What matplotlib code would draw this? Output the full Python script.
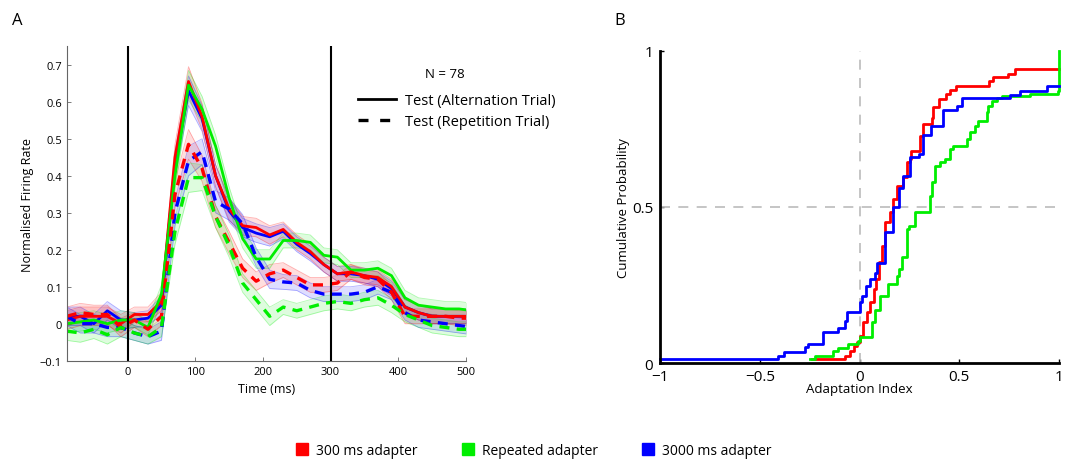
import numpy as np
import matplotlib.pyplot as plt
from matplotlib.lines import Line2D

plt.rcParams['font.family'] = ['Open Sans', 'DejaVu Sans']

RED = '#ff0000'
GREEN = '#00ee00'
BLUE = '#0000ff'

# ---- panel A: population PSTH (normalised firing rate) ----
times = [-90, -70, -50, -30, -10, 10, 30, 50, 70, 90, 110, 130, 150, 170, 190, 210,
         230, 250, 270, 290, 310, 330, 350, 370, 390, 410, 430, 450, 470, 490, 510]

red_alt = [0.01, 0.02, 0.02, 0.02, 0.0, 0.025, 0.025, 0.06, 0.45, 0.655, 0.56, 0.40, 0.31,
           0.265, 0.26, 0.24, 0.255, 0.22, 0.195, 0.16, 0.135, 0.14, 0.13, 0.125, 0.10,
           0.045, 0.03, 0.02, 0.02, 0.02, 0.02]
green_alt = [0.0, 0.005, 0.01, 0.0, 0.01, 0.01, -0.01, 0.08, 0.40, 0.645, 0.58, 0.48, 0.34,
             0.23, 0.175, 0.175, 0.225, 0.225, 0.22, 0.185, 0.18, 0.145, 0.145, 0.15, 0.13,
             0.07, 0.05, 0.045, 0.04, 0.04, 0.035]
blue_alt = [0.02, 0.02, 0.0, 0.035, 0.01, 0.01, 0.015, 0.05, 0.43, 0.63, 0.555, 0.40, 0.305,
            0.26, 0.245, 0.235, 0.25, 0.215, 0.19, 0.16, 0.135, 0.135, 0.13, 0.12, 0.095,
            0.045, 0.03, 0.02, 0.02, 0.02, 0.02]
red_rep = [0.02, 0.03, 0.025, 0.025, -0.01, 0.01, -0.015, 0.02, 0.35, 0.485, 0.42, 0.29, 0.22,
           0.15, 0.115, 0.135, 0.145, 0.125, 0.105, 0.105, 0.11, 0.14, 0.125, 0.12, 0.085,
           0.02, 0.02, 0.02, 0.02, 0.015, 0.015]
blue_rep = [0.02, 0.0, 0.0, -0.01, -0.01, -0.025, -0.035, -0.02, 0.30, 0.44, 0.465, 0.33, 0.31,
            0.27, 0.18, 0.12, 0.113, 0.11, 0.09, 0.08, 0.08, 0.08, 0.085, 0.10, 0.085,
            0.03, 0.01, 0.005, 0.0, -0.005, -0.01]
green_rep = [-0.02, -0.025, -0.015, -0.03, -0.01, -0.025, -0.035, -0.01, 0.25, 0.395, 0.395,
             0.29, 0.21, 0.11, 0.065, 0.02, 0.045, 0.035, 0.045, 0.055, 0.06, 0.055, 0.065,
             0.07, 0.05, 0.025, 0.01, -0.005, -0.01, -0.015, -0.015]
# shaded error (half-width), shared across conditions
sem = [0.025, 0.025, 0.025, 0.025, 0.025, 0.02, 0.02, 0.025, 0.035, 0.04, 0.035, 0.03, 0.03,
       0.025, 0.025, 0.025, 0.02, 0.02, 0.02, 0.02, 0.02, 0.02, 0.02, 0.02, 0.02,
       0.02, 0.02, 0.02, 0.02, 0.02, 0.02]

# ---- panel B: cumulative distributions of adaptation index (step levels) ----
red_x = [-0.24, -0.073, -0.048, -0.03, -0.014, 0.003, 0.019, 0.036, 0.053, 0.073, 0.085,
         0.099, 0.111, 0.128, 0.153, 0.17, 0.19, 0.22, 0.237, 0.253, 0.257, 0.303, 0.32,
         0.362, 0.37, 0.398, 0.434, 0.454, 0.484, 0.65, 0.67, 0.746, 0.779, 1.0]
red_y = [0.013, 0.024, 0.04, 0.055, 0.067, 0.088, 0.131, 0.163, 0.195, 0.238, 0.27,
         0.324, 0.376, 0.451, 0.484, 0.526, 0.568, 0.595, 0.643, 0.653, 0.68, 0.728, 0.765,
         0.785, 0.819, 0.845, 0.861, 0.875, 0.887, 0.902, 0.915, 0.925, 0.94, 0.94]
blue_x = [-1.0, -0.407, -0.38, -0.273, -0.26, -0.181, -0.106, -0.073, -0.065, 0.0, 0.01,
          0.033, 0.05, 0.078, 0.088, 0.13, 0.17, 0.2, 0.22, 0.253, 0.3, 0.32, 0.36, 0.42,
          0.487, 0.512, 0.754, 0.805, 0.938, 1.0]
blue_y = [0.013, 0.025, 0.035, 0.051, 0.062, 0.099, 0.113, 0.136, 0.163, 0.195, 0.216,
          0.248, 0.27, 0.29, 0.32, 0.42, 0.5, 0.56, 0.6, 0.66, 0.67, 0.73, 0.76, 0.81,
          0.824, 0.848, 0.859, 0.872, 0.886, 0.886]
green_x = [-0.248, -0.223, -0.133, -0.108, -0.058, -0.006, 0.003, 0.061, 0.08, 0.103, 0.145,
           0.186, 0.2, 0.211, 0.236, 0.25, 0.278, 0.353, 0.362, 0.378, 0.404, 0.429, 0.454,
           0.47, 0.537, 0.554, 0.579, 0.596, 0.638, 0.645, 0.662, 0.687, 0.712, 0.855, 0.997,
           1.0]
green_y = [0.013, 0.024, 0.04, 0.05, 0.062, 0.072, 0.083, 0.131, 0.17, 0.216, 0.254, 0.28,
           0.3, 0.339, 0.43, 0.44, 0.485, 0.536, 0.579, 0.63, 0.643, 0.654, 0.686, 0.696,
           0.717, 0.739, 0.76, 0.776, 0.803, 0.824, 0.84, 0.848, 0.855, 0.861, 0.872, 1.0]

n_cells = 78
legend_names = ['300 ms adapter', 'Repeated adapter', '3000 ms adapter']

fig = plt.figure(figsize=(10.73, 4.60), dpi=100)

# ---------------- panel A ----------------
ax = fig.add_axes([0.0622, 0.2137, 0.3720, 0.6834])
t = np.array(times)
s = np.array(sem)
series = [(blue_alt, BLUE, '-'), (red_alt, RED, '-'), (green_alt, GREEN, '-'),
          (blue_rep, BLUE, '--'), (red_rep, RED, '--'), (green_rep, GREEN, '--')]
for vals, col, ls in series:
    v = np.array(vals)
    ax.fill_between(t, v - s, v + s, color=col, alpha=0.13, lw=0)
    ax.plot(t, v - s, color=col, alpha=0.3, lw=0.6)
    ax.plot(t, v + s, color=col, alpha=0.3, lw=0.6)
for vals, col, ls in series:
    if ls == '-':
        ax.plot(t, vals, color=col, lw=2.0, ls='-')
    else:
        ax.plot(t, vals, color=col, lw=2.4, ls=(0, (3, 2.2)))
ax.axvline(0, color='black', lw=1.5)
ax.axvline(300, color='black', lw=1.5)
ax.set_xlim(-90, 500)
ax.set_ylim(-0.1, 0.75)
ax.set_xticks([0, 100, 200, 300, 400, 500])
ax.set_yticks([-0.1, 0, 0.1, 0.2, 0.3, 0.4, 0.5, 0.6, 0.7])
ax.set_yticklabels(['\u22120.1', '0', '0.1', '0.2', '0.3', '0.4', '0.5', '0.6', '0.7'])
for sp in ['top', 'right']:
    ax.spines[sp].set_visible(False)
for sp in ['left', 'bottom']:
    ax.spines[sp].set_color('#666666')
    ax.spines[sp].set_linewidth(0.8)
ax.tick_params(direction='in', length=3, width=0.6, color='#666666', labelsize=8)
ax.set_xlabel('Time (ms)', fontsize=9, labelpad=4)
ax.set_ylabel('Normalised Firing Rate', fontsize=9, labelpad=4)

ax.text(0.948, 0.912, 'N = %d' % n_cells, transform=ax.transAxes, fontsize=9.5,
        ha='center', va='center')
handles = [Line2D([], [], color='black', lw=2.0, ls='-'),
           Line2D([], [], color='black', lw=2.4, ls=(0, (3, 3.5)))]
ax.legend(handles, ['Test (Alternation Trial)', 'Test (Repetition Trial)'],
          fontsize=10.5, frameon=False, loc='upper left', bbox_to_anchor=(0.705, 0.885),
          handlelength=2.6, handletextpad=0.6, labelspacing=0.45, borderpad=0.2)

# ---------------- panel B ----------------
bx = fig.add_axes([0.6151, 0.208, 0.3719, 0.680])
bx.axvline(0, color='#bbbbbb', lw=1.2, ls=(0, (6, 5)))
bx.axhline(0.5, color='#bbbbbb', lw=1.2, ls=(0, (6, 5)))
bx.step(red_x, red_y, where='post', color=RED, lw=2.0, clip_on=False)
bx.step(green_x, green_y, where='post', color=GREEN, lw=2.0, clip_on=False)
bx.step(blue_x, blue_y, where='post', color=BLUE, lw=2.0, clip_on=False)
bx.set_xlim(-1, 1)
bx.set_ylim(0, 1)
bx.set_xticks([-1, -0.5, 0, 0.5, 1])
bx.set_xticklabels(['\u22121', '\u22120.5', '0', '0.5', '1'])
bx.set_yticks([0, 0.5, 1])
bx.set_yticklabels(['0', '0.5', '1'])
for sp in ['top', 'right']:
    bx.spines[sp].set_visible(False)
for sp in ['left', 'bottom']:
    bx.spines[sp].set_color('black')
    bx.spines[sp].set_linewidth(2.0)
bx.tick_params(direction='in', length=3, width=1.0, labelsize=11)
bx.tick_params(axis='x', pad=4)
bx.tick_params(axis='y', pad=5)
bx.set_xlabel('Adaptation Index', fontsize=9.5, labelpad=-1)
bx.set_ylabel('Cumulative Probability', fontsize=9.5, labelpad=1)

# panel letters
fig.text(0.011, 0.955, 'A', fontsize=12, va='center')
fig.text(0.573, 0.955, 'B', fontsize=12, va='center')

# shared colour legend
sq = [Line2D([], [], ls='none', marker='s', markersize=8, color=c) for c in (RED, GREEN, BLUE)]
fig.legend(sq, legend_names, loc='center', bbox_to_anchor=(0.497, 0.018), ncol=3,
           frameon=False, fontsize=10, handlelength=1.0, handletextpad=0.5,
           columnspacing=3.1)

fig.savefig('out.png', dpi=100)
